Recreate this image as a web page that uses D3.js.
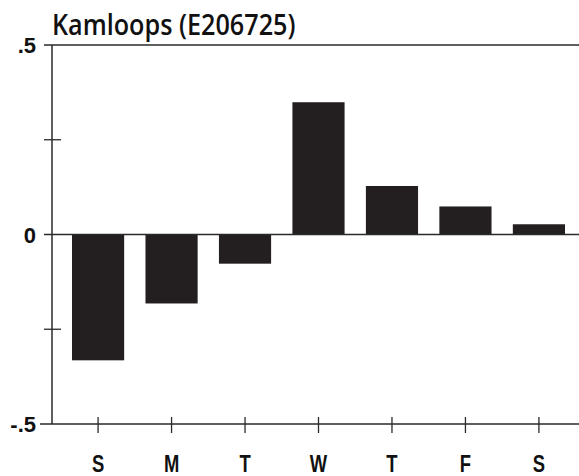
<!DOCTYPE html>
<html>
<head>
<meta charset="utf-8">
<script src="https://cdn.jsdelivr.net/npm/d3@7"></script>
<style>
  body { margin: 0; background: #fff; }
  svg { display: block; }
</style>
</head>
<body>
<div id="chart"></div>
<script>
const days   = ["S", "M", "T", "W", "T", "F", "S"];
const values = [-0.332, -0.182, -0.077, 0.349, 0.128, 0.074, 0.027];
const yTicks = [-0.5, -0.25, 0, 0.25, 0.5];
const yLabels = { "-0.5": "-.5", "0": "0", "0.5": ".5" };
const title  = "Kamloops (E206725)";

const width  = 579;
const height = 476;
const axisX  = 52;

const svg = d3.select("#chart")
  .append("svg")
  .attr("width", width)
  .attr("height", height);

const y = d3.scaleLinear()
  .domain([-0.5, 0.5])
  .range([424, 45]);

const x = d3.scaleBand()
  .domain(d3.range(days.length))
  .range([72, 565])
  .paddingInner(0.29)
  .paddingOuter(0);

const xc = i => x(i) + x.bandwidth() / 2;

const ink = "#2a2a2a";

// bars
svg.append("g")
  .selectAll("rect")
  .data(values)
  .enter()
  .append("rect")
  .attr("x", (d, i) => x(i))
  .attr("width", x.bandwidth())
  .attr("y", d => y(Math.max(0, d)))
  .attr("height", d => Math.abs(y(d) - y(0)))
  .attr("fill", "#231f20");

// horizontal rules at top, zero and bottom
[0.5, 0, -0.5].forEach(v => {
  svg.append("line")
    .attr("x1", v === -0.5 ? 40 : 44)
    .attr("x2", width)
    .attr("y1", y(v))
    .attr("y2", y(v))
    .attr("stroke", ink)
    .attr("stroke-width", 1.5);
});

// y axis
svg.append("line")
  .attr("x1", axisX).attr("x2", axisX)
  .attr("y1", y(0.5)).attr("y2", y(-0.5))
  .attr("stroke", ink)
  .attr("stroke-width", 1.5);

svg.append("g")
  .selectAll("line")
  .data(yTicks.filter(d => Math.abs(d) === 0.25))
  .enter()
  .append("line")
  .attr("x1", 44).attr("x2", 61)
  .attr("y1", d => y(d)).attr("y2", d => y(d))
  .attr("stroke", ink)
  .attr("stroke-width", 1.3);

svg.append("g")
  .selectAll("text")
  .data(yTicks.filter(d => yLabels[String(d)] !== undefined))
  .enter()
  .append("text")
  .attr("x", 36)
  .attr("y", d => y(d) + 8)
  .attr("text-anchor", "end")
  .attr("font-family", "Liberation Sans, Arial, sans-serif")
  .style("font-size", "22px")
  .style("font-weight", "600")
  .attr("fill", "#111")
  .text(d => yLabels[String(d)]);

// x ticks and labels
svg.append("g")
  .selectAll("line")
  .data(days)
  .enter()
  .append("line")
  .attr("x1", (d, i) => xc(i))
  .attr("x2", (d, i) => xc(i))
  .attr("y1", 417)
  .attr("y2", 433)
  .attr("stroke", ink)
  .attr("stroke-width", 1.3);

svg.append("g")
  .selectAll("text")
  .data(days)
  .enter()
  .append("text")
  .attr("transform", (d, i) => `translate(${xc(i)},472) scale(0.8,1)`)
  .attr("text-anchor", "middle")
  .attr("font-family", "Liberation Sans, Arial, sans-serif")
  .style("font-weight", "bold")
  .style("font-size", "23px")
  .attr("fill", "#111")
  .text(d => d);

// title
svg.append("text")
  .attr("transform", "translate(52,35) scale(0.9,1)")
  .attr("font-family", "Open Sans, sans-serif")
  .style("font-weight", "600")
  .style("font-size", "28px")
  .attr("fill", "#111")
  .text(title);
</script>
</body>
</html>
